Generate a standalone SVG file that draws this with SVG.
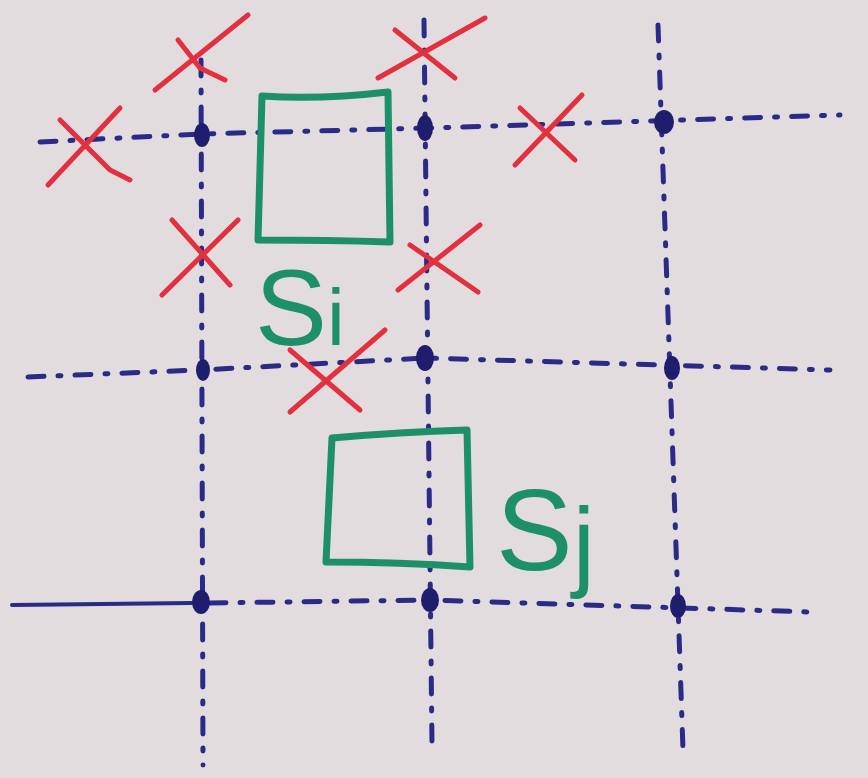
<svg xmlns="http://www.w3.org/2000/svg" width="868" height="778" viewBox="0 0 868 778">
<defs>
<style>
.bg{fill:#e3dcdf}
.grid{stroke:#2b2a86;stroke-width:5;stroke-linecap:round;fill:none;stroke-dasharray:16 14 3 14}
.solid{stroke:#2b2a86;stroke-width:4;stroke-linecap:round;fill:none}
.dot{fill:#1f1d6e}
.x{stroke:#e2303f;stroke-width:5;stroke-linecap:round;fill:none}
.sq{stroke:#1e9068;stroke-width:7;fill:none;stroke-linejoin:round}
.lbl{fill:#1e9068;font-family:"Liberation Sans","DejaVu Sans",sans-serif}
</style>
</defs>
<rect class="bg" x="0" y="0" width="868" height="778"/>
<g id="connectors">
<path class="grid" d="M201 60 L203 765"/>
<path class="grid" d="M424 20 L432 745"/>
<path class="grid" d="M658 25 L683 750"/>
<path class="grid" d="M40 142 L200 134 L430 128 L840 115"/>
<path class="grid" d="M28 377 L200 370 L425 358 L830 370"/>
<path class="solid" d="M12 605 L192 603"/>
<path class="grid" d="M210 603 L430 600 L810 612"/>
</g>
<g id="dots">
<ellipse class="dot" cx="202" cy="135" rx="8" ry="12"/>
<ellipse class="dot" cx="425" cy="128" rx="8" ry="13"/>
<ellipse class="dot" cx="664" cy="122" rx="10" ry="12"/>
<ellipse class="dot" cx="203" cy="370" rx="7" ry="11"/>
<ellipse class="dot" cx="425" cy="358" rx="9" ry="13"/>
<ellipse class="dot" cx="672" cy="368" rx="8" ry="12"/>
<ellipse class="dot" cx="201" cy="602" rx="9" ry="12"/>
<ellipse class="dot" cx="430" cy="600" rx="9" ry="12"/>
<ellipse class="dot" cx="678" cy="606" rx="8" ry="12"/>
</g>
<g id="crosses">
<g id="x1"><path class="x" d="M155 90 L248 15 M178 40 L200 68 L225 80"/></g>
<g id="x2"><path class="x" d="M378 78 L485 18 M395 30 L455 78"/></g>
<g id="x3"><path class="x" d="M48 185 L120 108 M60 120 L110 170 L130 180"/></g>
<g id="x4"><path class="x" d="M515 165 L582 95 M520 108 L575 160"/></g>
<g id="x5"><path class="x" d="M162 295 L238 220 M172 220 L230 285"/></g>
<g id="x6"><path class="x" d="M398 290 L480 225 M410 245 L478 292"/></g>
<g id="x7"><path class="x" d="M290 412 L385 330 M290 350 L360 410"/></g>
</g>
<g id="Si">
<path class="sq" d="M262 96 Q320 100 388 92 L390 242 Q330 240 258 240 Z"/>
<text class="lbl" x="255" y="345" font-size="108">S<tspan font-size="80">i</tspan></text>
</g>
<g id="Sj">
<path class="sq" d="M332 438 Q400 432 467 430 L470 567 Q400 562 326 562 Z"/>
<text class="lbl" x="496" y="570" font-size="115">S<tspan font-size="100" dy="8">j</tspan></text>
</g>
</svg>
